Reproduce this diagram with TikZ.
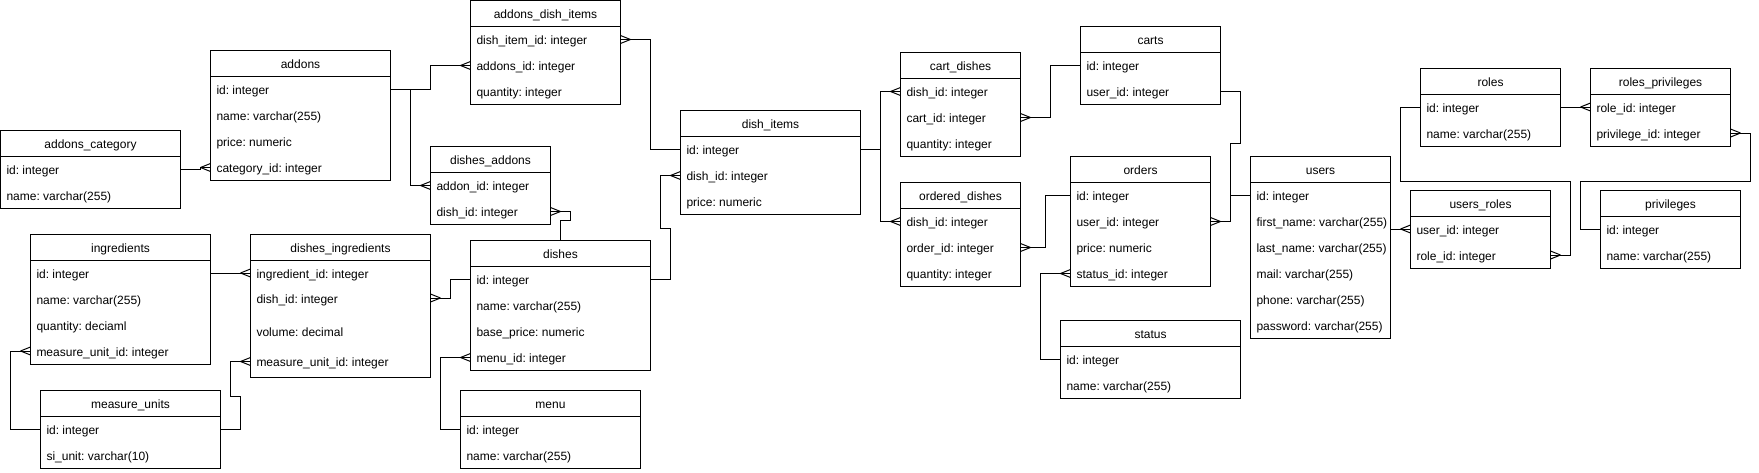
\documentclass[tikz,border=0pt]{standalone}
\usepackage{fontspec}
\setmainfont{Liberation Sans}
\usetikzlibrary{calc,arrows.meta}
\frenchspacing

\pgfdeclarearrow{
  name = crow,
  parameters = {},
  setup code = {
    \pgfarrowssettipend{0pt}
    \pgfarrowssetlineend{0pt}
    \pgfarrowssetbackend{-10pt}
    \pgfarrowshullpoint{0pt}{4pt}
    \pgfarrowshullpoint{0pt}{-4pt}
    \pgfarrowshullpoint{-10pt}{0pt}
  },
  drawing code = {
    \pgfsetlinewidth{1pt}
    \pgfpathmoveto{\pgfpoint{0pt}{4pt}}
    \pgfpathlineto{\pgfpoint{-10pt}{0pt}}
    \pgfpathmoveto{\pgfpoint{0pt}{-4pt}}
    \pgfpathlineto{\pgfpoint{-10pt}{0pt}}
    \pgfusepathqstroke
  },
  defaults = {}
}

\tikzset{
  hdr/.style={draw, line width=1pt, minimum height=26pt, inner sep=0pt, outer sep=0pt,
    text height=10.5pt, text depth=0.5pt, font=\fontsize{12}{14}\selectfont},
  rowcell/.style={minimum height=26pt, inner xsep=6pt, inner ysep=0pt, outer sep=0pt,
    text height=10.5pt, text depth=0.5pt, font=\fontsize{12}{14}\selectfont},
  rel/.style={line width=1pt, -crow},
  plainrel/.style={line width=1pt},
  outline/.style={line width=1pt}
}

% #1 name, #2 title, #3 x, #4 y top, #5 width, #6 rows
\newcommand\ertable[6]{%
  \node[hdr, minimum width=#5pt, anchor=north west] (#1) at (#3,#4) {#2};
  \pgfmathsetmacro\rowtw{#5-12}%
  \foreach \txt [count=\i] in {#6} {
    \node[rowcell, anchor=north west] (#1-\i)
      at ($(#1.south west)+(0,{(\i-1)*26})$) {\makebox[\rowtw pt][l]{\txt}};
    \xdef\lastrow{\i}
  }
  \draw[outline] (#1.north west) rectangle (#1-\lastrow.south east);
}

\begin{document}
\begin{tikzpicture}[x=1pt,y=-1pt]
\useasboundingbox[fill=white] (-0.5,-0.5) rectangle (1758.5,471.5);

\ertable{ac}{addons\_category}{0}{130}{180}{{id: integer},{name: varchar(255)}}
\ertable{addons}{addons}{210}{50}{180}{{id: integer},{name: varchar(255)},{price: numeric},{category\_id: integer}}
\ertable{adi}{addons\_dish\_items}{470}{0}{150}{{dish\_item\_id: integer},{addons\_id: integer},{quantity: integer}}
\ertable{da}{dishes\_addons}{430}{146}{120}{{addon\_id: integer},{dish\_id: integer}}
\ertable{di}{dish\_items}{680}{110}{180}{{id: integer},{dish\_id: integer},{price: numeric}}
\ertable{ing}{ingredients}{30}{233.5}{180}{{id: integer},{name: varchar(255)},{quantity: deciaml},{measure\_unit\_id: integer}}
\ertable{mu}{measure\_units}{40}{390}{180}{{id: integer},{si\_unit: varchar(10)}}
\ertable{dishes}{dishes}{470}{240}{180}{{id: integer},{name: varchar(255)},{base\_price: numeric},{menu\_id: integer}}
\ertable{menu}{menu}{460}{390}{180}{{id: integer},{name: varchar(255)}}
\ertable{cd}{cart\_dishes}{900}{52}{120}{{dish\_id: integer},{cart\_id: integer},{quantity: integer}}
\ertable{od}{ordered\_dishes}{900}{182}{120}{{dish\_id: integer},{order\_id: integer},{quantity: integer}}
\ertable{carts}{carts}{1080}{26}{140}{{id: integer},{user\_id: integer}}
\ertable{orders}{orders}{1070}{156}{140}{{id: integer},{user\_id: integer},{price: numeric},{status\_id: integer}}
\ertable{status}{status}{1060}{320}{180}{{id: integer},{name: varchar(255)}}
\ertable{users}{users}{1250}{156}{140}{{id: integer},{first\_name: varchar(255)},{last\_name: varchar(255)},{mail: varchar(255)},{phone: varchar(255)},{password: varchar(255)}}
\ertable{roles}{roles}{1420}{67.5}{140}{{id: integer},{name: varchar(255)}}
\ertable{rp}{roles\_privileges}{1590}{67.5}{140}{{role\_id: integer},{privilege\_id: integer}}
\ertable{ur}{users\_roles}{1410}{189.5}{140}{{user\_id: integer},{role\_id: integer}}
\ertable{priv}{privileges}{1600}{189.5}{140}{{id: integer},{name: varchar(255)}}

% dishes_ingredients (irregular rows)
\node[hdr, minimum width=180pt, anchor=north west] (dsi) at (250,233.5) {dishes\_ingredients};
\node[rowcell, anchor=west] (dsi-1) at (250,272.5) {\makebox[168pt][l]{ingredient\_id: integer}};
\node[rowcell, anchor=west] (dsi-2) at (250,297.5) {\makebox[168pt][l]{dish\_id: integer}};
\node[rowcell, anchor=west] (dsi-3) at (250,330.5) {\makebox[168pt][l]{volume: decimal}};
\node[rowcell, anchor=west] (dsi-4) at (250,361) {\makebox[168pt][l]{measure\_unit\_id: integer}};
\draw[outline] (dsi.north west) rectangle ($(dsi.north east)+(0,143.5)$);

% connectors
\draw[rel] (ac-1.east) -- ++(20,0) |- (addons-4.west);
\draw[rel] (addons-1.east) -- ++(40,0) |- (adi-2.west);
\draw[rel] (addons-1.east) -- ++(20,0) |- (da-1.west);
\draw[rel] (di-1.west) -- ++(-30,0) |- (adi-1.east);
\draw[rel] (dishes.north) -- ++(0,-20) -| ($(da-2.east)+(20,0)$) -- (da-2.east);
\draw[rel] (dishes-1.east) -- ++(20,0) -- ++(0,-51.5) -- ++(-10,0) |- (di-2.west);
\draw[rel] (dishes-1.west) -- ++(-20,0) |- (dsi-2.east);
\draw[rel] (ing-1.east) -- (dsi-1.west);
\draw[rel] (mu-1.west) -- ++(-30,0) |- (ing-4.west);
\draw[rel] (mu-1.east) -- ++(20,0) -- ++(0,-33.5) -- ++(-10,0) |- (dsi-4.west);
\draw[rel] (menu-1.west) -- ++(-20,0) |- (dishes-4.west);
\draw[rel] (di-1.east) -- ++(20,0) |- (cd-1.west);
\draw[rel] (di-1.east) -- ++(20,0) |- (od-1.west);
\draw[rel] (carts-1.west) -- ++(-30,0) |- (cd-2.east);
\draw[plainrel] (users-1.west) -- ++(-20,0) -- ++(0,-52) -- ++(10,0) |- (carts-2.east);
\draw[rel] (users-1.west) -- ++(-20,0) |- (orders-2.east);
\draw[rel] (orders-1.west) -- ++(-25,0) |- (od-2.east);
\draw[rel] (status-1.west) -- ++(-20,0) |- (orders-4.west);
\draw[rel] (ur-1.west -| users.east) -- (ur-1.west);
\draw[rel] (roles-1.east) -- (rp-1.west);
\draw[rel] (roles-1.west) -- ++(-20,0) -- ++(0,74) -| ($(ur-2.east)+(20,0)$) -- (ur-2.east);
\draw[rel] (priv-1.west) -- ++(-20,0) -- ++(0,-48) -| ($(rp-2.east)+(20,0)$) -- (rp-2.east);
\end{tikzpicture}
\end{document}
